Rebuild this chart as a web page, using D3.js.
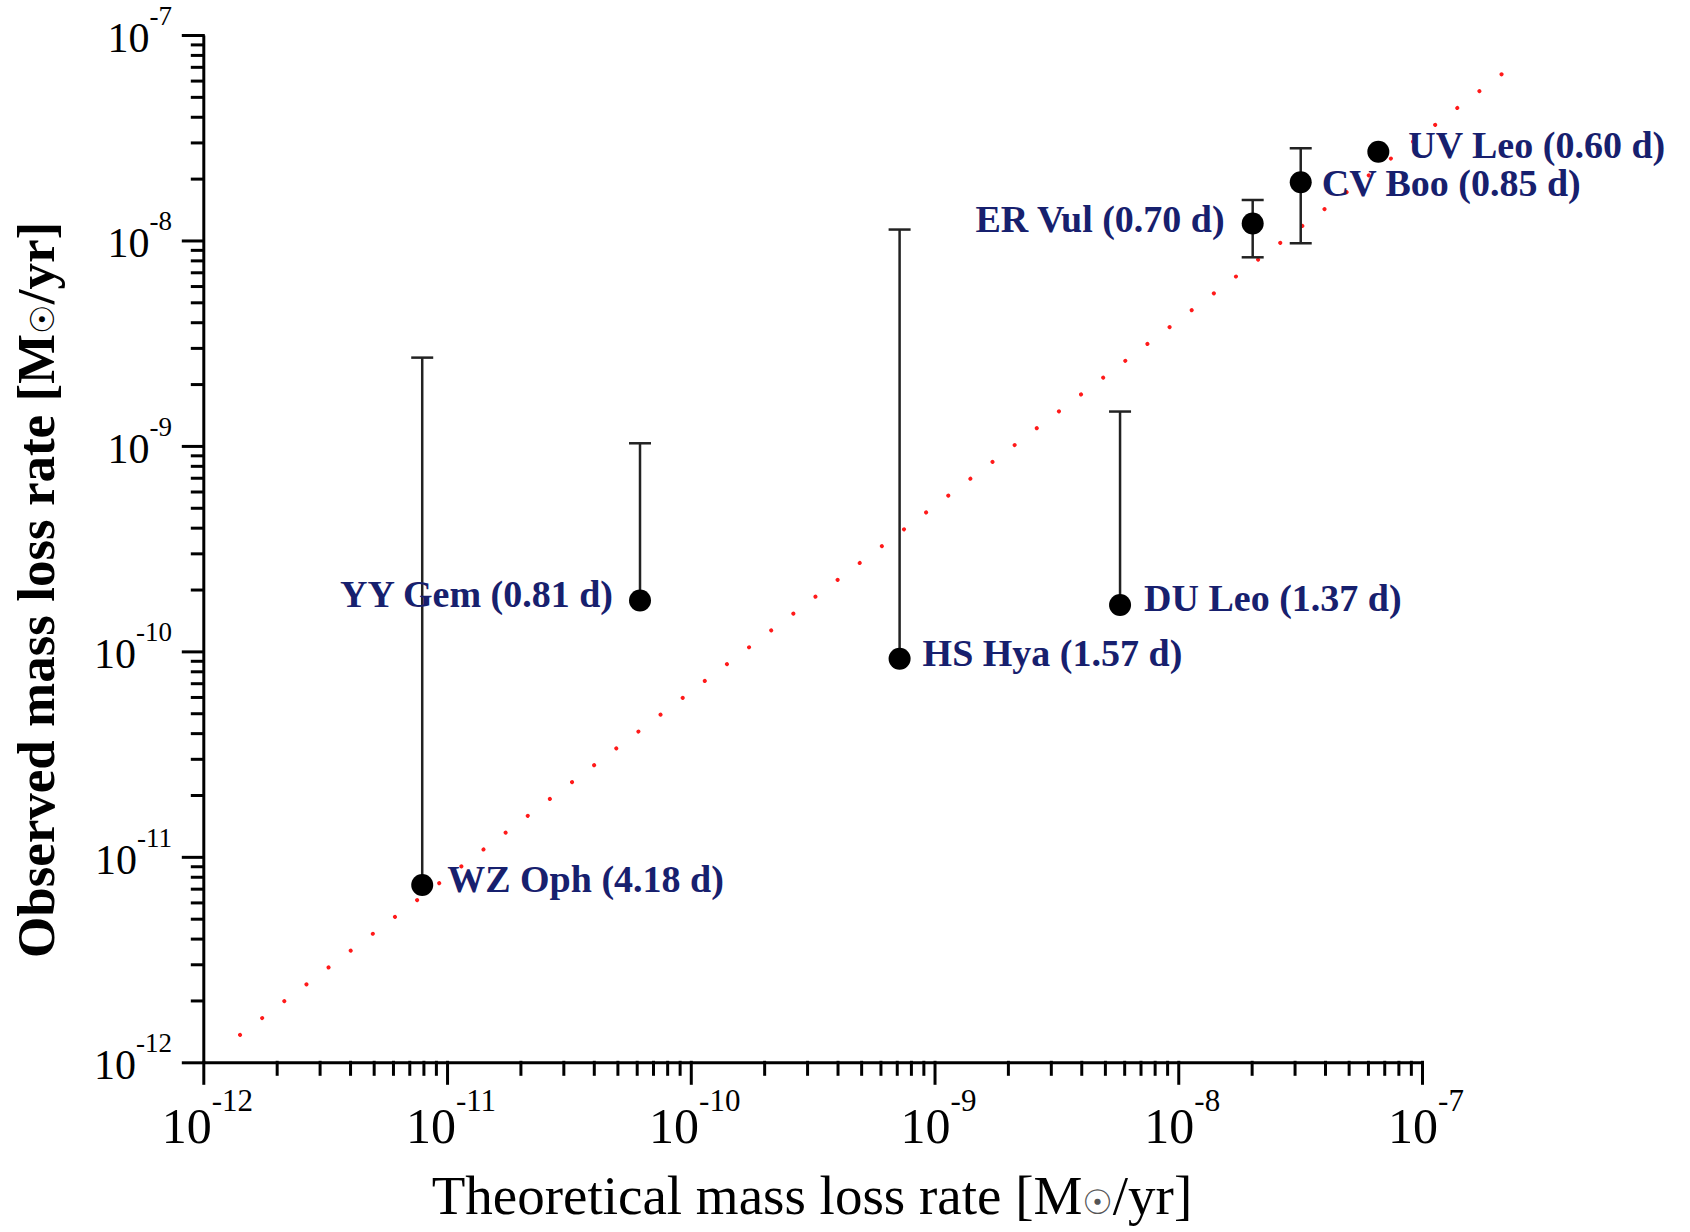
<!DOCTYPE html>
<html lang="en">
<head>
    <meta charset="UTF-8">
    <title>Observed vs theoretical mass loss rate</title>
    <style>
        body {
            margin: 0;
            padding: 0;
            background-color: #fff;
        }

        svg text {
            font-family: "Liberation Serif", "Times New Roman", serif;
        }

        .axis path, .axis line {
            stroke: #000;
            stroke-width: 3;
        }
    </style>
</head>
<body>

<div id="graphContainer"></div>

<script src="https://d3js.org/d3.v7.min.js"></script>

<script>
    // data
    const stars = ["UV Leo", "CV Boo", "ER Vul", "YY Gem", "HS Hya", "DU Leo", "WZ Oph"];
    const periods = ["0.60", "0.85", "0.70", "0.81", "1.57", "1.37", "4.18"];
    const theoretical = [6.62e-8, 3.18e-8, 2.02e-8, 6.19e-11, 7.19e-10, 5.77e-9, 7.91e-12];
    const observed = [2.70e-8, 1.92e-8, 1.21e-8, 1.77e-10, 9.2e-11, 1.68e-10, 7.3e-12];
    const errHigh = [null, 2.81e-8, 1.574e-8, 1.03e-9, 1.13e-8, 1.47e-9, 2.69e-9];
    const errLow = [null, 9.69e-9, 8.28e-9, null, null, null, null];

    // red dotted relation (end points)
    const fitX = [1.415e-12, 2.12e-7];
    const fitY = [1.36e-12, 6.44e-8];

    const majorTicks = [1e-12, 1e-11, 1e-10, 1e-9, 1e-8, 1e-7];
    const tickExponents = ["-12", "-11", "-10", "-9", "-8", "-7"];

    // label placement relative to the point (layout only)
    const labelOffset = {
        "UV Leo": [30, 6], "CV Boo": [21, 14], "ER Vul": [-28, 9], "YY Gem": [-27, 7],
        "HS Hya": [23, 7], "DU Leo": [24, 6], "WZ Oph": [25, 7]
    };

    const svgWidth = 1690;
    const svgHeight = 1232;

    const svg = d3.select("#graphContainer")
        .append("svg")
        .attr("width", svgWidth)
        .attr("height", svgHeight);

    const x = d3.scaleLog().domain([1e-12, 1e-7]).range([203.3, 1422]);
    const y = d3.scaleLog().domain([1e-12, 1e-7]).range([1062.3, 35]);

    // minor ticks 2..9 in each decade
    const minorTicks = [];
    majorTicks.slice(0, -1).forEach(m => {
        for (let k = 2; k <= 9; k++) minorTicks.push(m * k);
    });

    // red dotted line
    const fitPts = fitX.map((v, i) => [x(v), y(fitY[i])]);
    const fitLen = Math.hypot(fitPts[1][0] - fitPts[0][0], fitPts[1][1] - fitPts[0][1]);
    const nDots = Math.round(fitLen / 27.8);
    svg.append("path")
        .datum(fitPts)
        .attr("fill", "none")
        .attr("stroke", "#ff1a1a")
        .attr("stroke-width", 4)
        .attr("stroke-linecap", "round")
        .attr("stroke-dasharray", "0.01 " + (fitLen / nDots - 0.01))
        .attr("d", d3.line());

    // axes
    const gx = svg.append("g").attr("class", "axis")
        .attr("transform", "translate(0," + y(1e-12) + ")");
    gx.call(d3.axisBottom(x).tickValues(minorTicks).tickSize(12).tickSizeOuter(0).tickFormat(""));
    gx.append("g").call(d3.axisBottom(x).tickValues(majorTicks).tickSize(21).tickSizeOuter(0).tickFormat(""))
        .select(".domain").remove();

    const gy = svg.append("g").attr("class", "axis")
        .attr("transform", "translate(" + x(1e-12) + ",0)");
    gy.call(d3.axisLeft(y).tickValues(minorTicks).tickSize(11).tickSizeOuter(0).tickFormat(""));
    gy.append("g").call(d3.axisLeft(y).tickValues(majorTicks).tickSize(20).tickSizeOuter(0).tickFormat(""))
        .select(".domain").remove();

    svg.selectAll(".axis line").attr("stroke-linecap", "square");

    // tick labels 10^n
    const xLab = svg.append("g").selectAll("text")
        .data(majorTicks)
        .join("text")
        .attr("x", d => x(d) + 4)
        .attr("y", 1143)
        .attr("text-anchor", "middle")
        .attr("font-size", 50)
        .attr("fill", "#000");
    xLab.append("tspan").text("10");
    xLab.append("tspan").attr("font-size", 31).attr("dy", -32).text((d, i) => tickExponents[i]);

    const yLab = svg.append("g").selectAll("text")
        .data(majorTicks)
        .join("text")
        .attr("x", 172)
        .attr("y", d => y(d) + 17)
        .attr("text-anchor", "end")
        .attr("font-size", 42)
        .attr("fill", "#000");
    yLab.append("tspan").text("10");
    yLab.append("tspan").attr("font-size", 27).attr("dy", -27).text((d, i) => tickExponents[i]);

    // axis titles
    const xTitle = svg.append("text")
        .attr("x", 812)
        .attr("y", 1214)
        .attr("text-anchor", "middle")
        .attr("font-size", 55)
        .attr("fill", "#000");
    xTitle.append("tspan").text("Theoretical mass loss rate [M");
    xTitle.append("tspan").attr("font-size", 34).attr("fill", "#555").attr("font-family", "DejaVu Sans").text("\u2609");
    xTitle.append("tspan").text("/yr]");

    const yTitle = svg.append("text")
        .attr("transform", "translate(54,590) rotate(-90)")
        .attr("text-anchor", "middle")
        .attr("font-size", 53)
        .attr("font-weight", "bold")
        .attr("fill", "#000");
    yTitle.append("tspan").text("Observed mass loss rate [M");
    yTitle.append("tspan").attr("font-size", 33).attr("font-weight", "normal").attr("font-family", "DejaVu Sans").text("\u2609");
    yTitle.append("tspan").text("/yr]");

    // error bars
    const capHalf = 11;
    const bars = svg.append("g")
        .attr("stroke", "#222")
        .attr("stroke-width", 2.5);

    stars.forEach((s, i) => {
        const cx = x(theoretical[i]);
        const top = errHigh[i] != null ? errHigh[i] : observed[i];
        const bottom = errLow[i] != null ? errLow[i] : observed[i];
        if (top === bottom) return;
        bars.append("line")
            .attr("x1", cx).attr("x2", cx)
            .attr("y1", y(top)).attr("y2", y(bottom));
        if (errHigh[i] != null) {
            bars.append("line")
                .attr("x1", cx - capHalf).attr("x2", cx + capHalf)
                .attr("y1", y(errHigh[i])).attr("y2", y(errHigh[i]));
        }
        if (errLow[i] != null) {
            bars.append("line")
                .attr("x1", cx - capHalf).attr("x2", cx + capHalf)
                .attr("y1", y(errLow[i])).attr("y2", y(errLow[i]));
        }
    });

    // points
    svg.append("g").selectAll("circle")
        .data(stars)
        .join("circle")
        .attr("cx", (d, i) => x(theoretical[i]))
        .attr("cy", (d, i) => y(observed[i]))
        .attr("r", 11)
        .attr("fill", "#000");

    // star labels
    svg.append("g").selectAll("text")
        .data(stars)
        .join("text")
        .attr("x", (d, i) => x(theoretical[i]) + labelOffset[d][0])
        .attr("y", (d, i) => y(observed[i]) + labelOffset[d][1])
        .attr("text-anchor", d => labelOffset[d][0] > 0 ? "start" : "end")
        .attr("font-size", 38)
        .attr("font-weight", "bold")
        .attr("fill", "#17206e")
        .text((d, i) => d + " (" + periods[i] + " d)");
</script>

</body>
</html>
